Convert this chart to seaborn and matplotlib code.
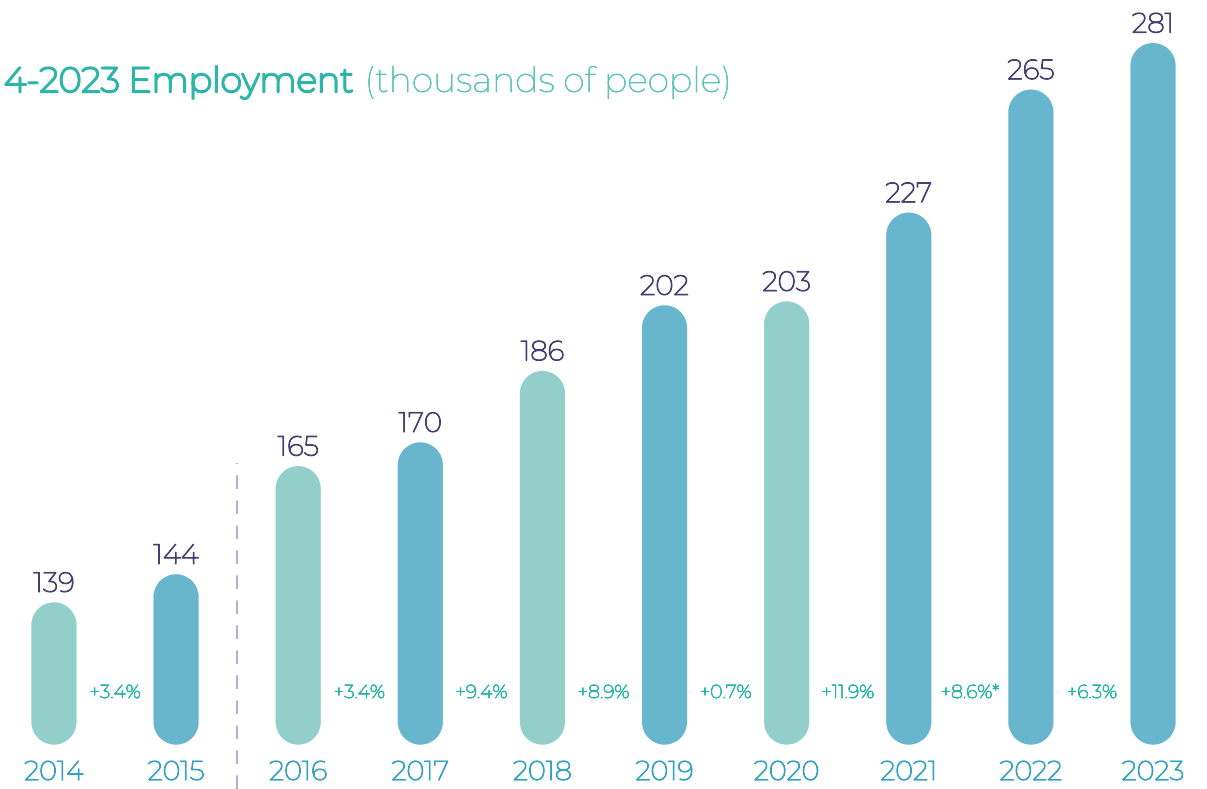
import matplotlib
matplotlib.use("Agg")
import matplotlib.pyplot as plt
import matplotlib.transforms as mtransforms
from matplotlib.path import Path
from matplotlib.patches import PathPatch
from matplotlib import patheffects as pe
import seaborn as sns
import pandas as pd
import numpy as np

# ---- data ----
years = ["2014", "2015", "2016", "2017", "2018", "2019", "2020", "2021", "2022", "2023"]
employment = [139, 144, 165, 170, 186, 202, 203, 227, 265, 281]
bar_group = ["light", "blue", "light", "blue", "light", "blue", "light", "blue", "blue", "blue"]
# growth labels shown between consecutive years (index i -> between year i and i+1)
growth_labels = ["+3.4%", "", "+3.4%", "+9.4%", "+8.9%", "+0.7%", "+11.9%", "+8.6%*", "+6.3%"]
title_bold = "4-2023 Employment"
title_light = "(thousands of people)"

# ---- style ----
LIGHT = "#92CFCB"
BLUE = "#67B6CD"
NUM_COLOR = "#453F72"
YEAR_COLOR = "#35A2BF"
PCT_COLOR = "#27B5A5"
TITLE_COLOR = "#2DB5A8"
TITLE_LIGHT_COLOR = "#5CC3B9"
DASH_COLOR = "#B5B1CE"
FONT = ["Montserrat", "Open Sans", "DejaVu Sans"]

sns.set_theme(style="white")
plt.rcParams["font.family"] = FONT


def stroke(lw, color):
    return [pe.withStroke(linewidth=lw, foreground=color)]


W, H, DPI = 1207, 789, 100
fig = plt.figure(figsize=(W / DPI, H / DPI), dpi=DPI)
fig.patch.set_facecolor("white")
ax = fig.add_axes([0, 0, 1, 1])

df = pd.DataFrame({"year": years, "value": employment, "group": bar_group})
sns.barplot(data=df, x="year", y="value", hue="group",
            palette={"light": LIGHT, "blue": BLUE}, width=0.37,
            dodge=False, legend=False, saturation=1, ax=ax)

# collect bar geometry, then remove rectangular bars
bars = []
for p in list(ax.patches):
    xc = p.get_x() + p.get_width() / 2
    bars.append((xc, p.get_width(), p.get_height(), p.get_facecolor()))
    p.remove()

# scale: log value axis approximates the graphic's bar heights
BASE = 116.2
ax.set_yscale("log")
ax.set_ylim(109.9, 296.6)
ax.set_xlim(-0.442, 9.442)
ax.set_axis_off()


def pill_path(x0, y0, x1, y1):
    r = (x1 - x0) / 2
    xc = (x0 + x1) / 2
    top = Path.arc(0, 180)
    bot = Path.arc(180, 360)
    vt = top.vertices * r + [xc, y1 - r]
    vb = bot.vertices * r + [xc, y0 + r]
    verts = np.vstack([vt, vb, vt[:1]])
    codes = list(top.codes) + [Path.LINETO] + list(bot.codes[1:]) + [Path.CLOSEPOLY]
    return Path(verts, codes)


# rounded (pill) bars drawn in display space from the data transform
for xc, w, h, fc in bars:
    x0, y0 = ax.transData.transform((xc - w / 2, BASE))
    x1, y1 = ax.transData.transform((xc + w / 2, h))
    patch = PathPatch(pill_path(x0, y0, x1, y1),
                      transform=mtransforms.IdentityTransform(),
                      facecolor=fc, edgecolor="none", clip_on=False)
    ax.add_artist(patch)

xt = mtransforms.blended_transform_factory(ax.transData, ax.transAxes)

# value labels
for xc, w, h, fc in bars:
    ax.annotate(f"{int(round(h))}", xy=(xc, h), xytext=(0, 7.5), textcoords="offset points",
                ha="center", va="baseline", fontsize=20, color=NUM_COLOR,
                path_effects=stroke(0.8, NUM_COLOR))

# year labels
for i, y in enumerate(years):
    ax.text(i, 0.0114, y, transform=xt, ha="center", va="baseline",
            fontsize=19.5, color=YEAR_COLOR, path_effects=stroke(0.8, YEAR_COLOR))

# growth labels
for i, g in enumerate(growth_labels):
    if g:
        ax.text(i + 0.5, 0.1153, g, transform=xt, ha="center", va="baseline",
                fontsize=13.5, color=PCT_COLOR, path_effects=stroke(0.6, PCT_COLOR))

# dashed separator
ax.plot([1.5, 1.5], [0, 0.413], transform=xt, color=DASH_COLOR, lw=1.5,
        dashes=(6.5, 5.5), solid_capstyle="butt")

# title
TITLE_Y = 0.8834
t1 = fig.text(4 / W, TITLE_Y, title_bold, ha="left", va="baseline",
              fontsize=25, color=TITLE_COLOR, path_effects=stroke(1.7, TITLE_COLOR))
fig.canvas.draw()
bb = t1.get_window_extent(fig.canvas.get_renderer())
fig.text((bb.x1 + 10) / W, TITLE_Y, title_light, ha="left", va="baseline",
         fontsize=25, color=TITLE_LIGHT_COLOR, path_effects=stroke(0.5, TITLE_LIGHT_COLOR))

fig.savefig("out.png", dpi=DPI, facecolor="white")
